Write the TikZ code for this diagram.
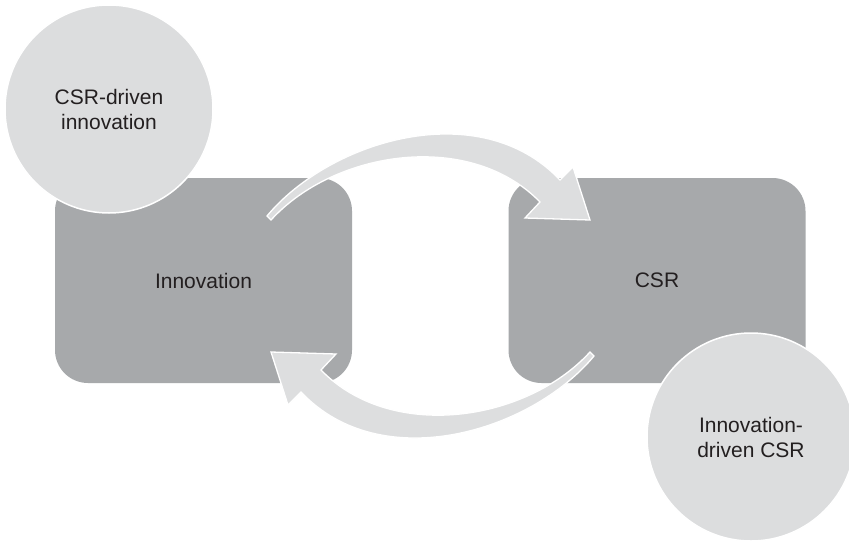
\documentclass[tikz,border=0pt]{standalone}
\usepackage{fontspec}
\setmainfont{Liberation Sans}
\definecolor{boxgray}{HTML}{A7A9AB}
\definecolor{circgray}{HTML}{DCDDDE}
\definecolor{arrgray}{HTML}{DDDEDF}
\definecolor{txt}{HTML}{231F20}
\tikzset{
  box/.style={draw=none, fill=boxgray, rounded corners=33pt, minimum width=297pt, minimum height=205pt, inner sep=0pt, text=txt, font=\fontsize{21}{25}\selectfont},
  bubble/.style={circle, draw=white, line width=1.5pt, fill=circgray, minimum size=208pt, inner sep=0pt, text=txt, align=center, font=\fontsize{21}{25}\selectfont},
  blockarrow/.style={fill=arrgray, draw=white, line width=1.3pt, line join=miter}
}
\begin{document}
\begin{tikzpicture}[x=1pt,y=-1pt]
\clip (0,0) rectangle (849,541);
\fill[white] (0,0) rectangle (849,541);
\node[box] (inno) at (203.5,280.5) {Innovation};
\node[box] (csr) at (657,280.5) {CSR};
\node[bubble] (cdi) at (109,109) {CSR-driven\\innovation};
\node[bubble] (idc) at (751,437) {Innovation-\\driven CSR};
% top arrow: Innovation -> CSR
\coordinate (ta) at (269,218);
\draw[blockarrow] (267,216) .. controls (330,140) and (480,95) .. (560,180)
  -- (573,167) -- (590,220) -- (525,218) -- (540,202)
  .. controls (470,130) and (335,150) .. (271,220) -- cycle;
% bottom arrow: CSR -> Innovation (point reflection)
\begin{scope}[rotate around={180:(430.5,286)}]
\draw[blockarrow] (267,216) .. controls (330,140) and (480,95) .. (560,180)
  -- (573,167) -- (590,220) -- (525,218) -- (540,202)
  .. controls (470,130) and (335,150) .. (271,220) -- cycle;
\end{scope}
\end{tikzpicture}
\end{document}
